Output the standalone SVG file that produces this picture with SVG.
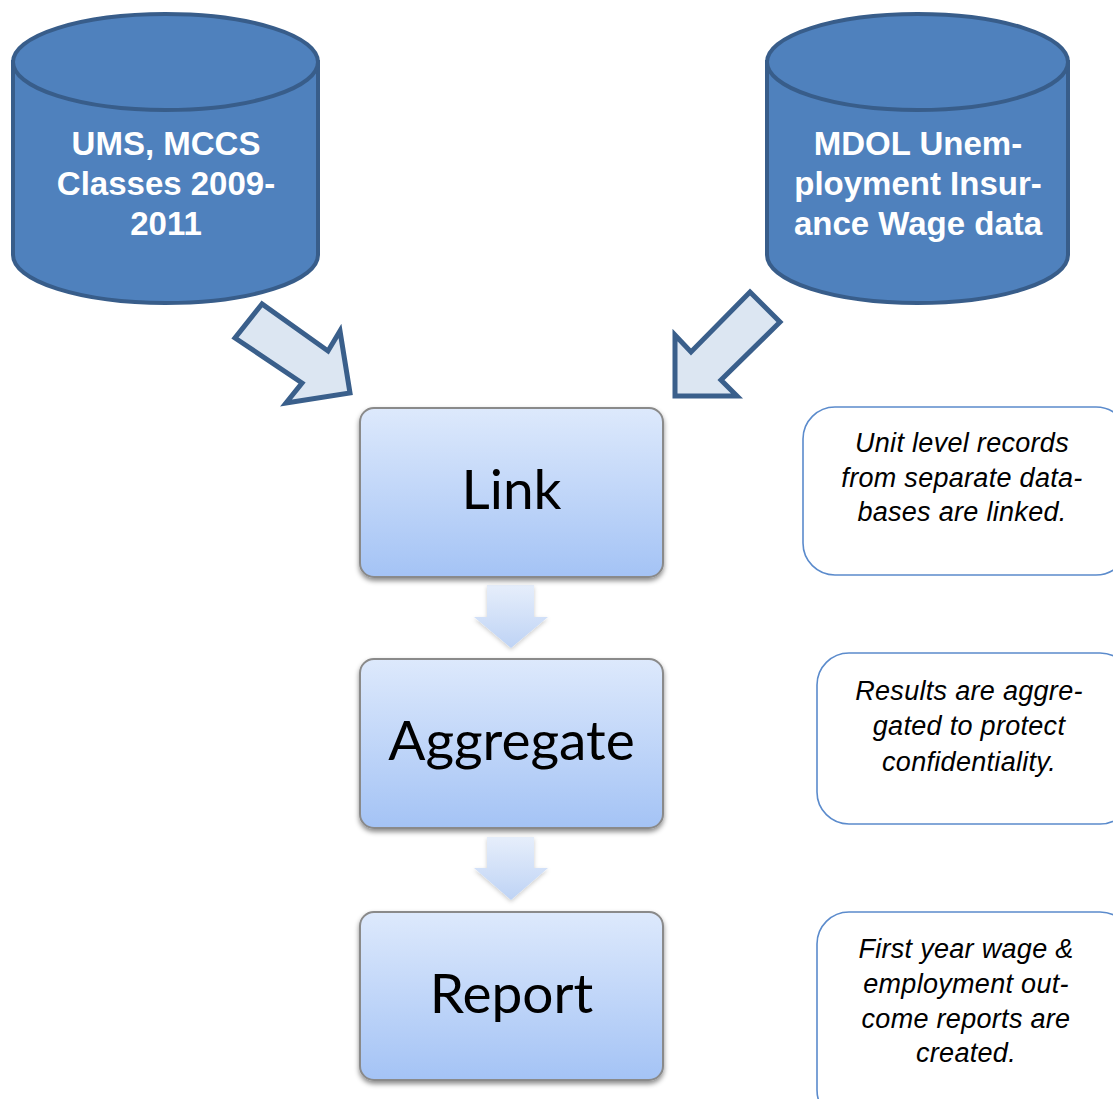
<svg xmlns="http://www.w3.org/2000/svg" width="1113" height="1099" viewBox="0 0 1113 1099">
<defs>
<linearGradient id="boxGrad" x1="0" y1="0" x2="0" y2="1">
<stop offset="0" stop-color="#dde9fc"/>
<stop offset="1" stop-color="#a4c3f5"/>
</linearGradient>
<linearGradient id="downGrad" x1="0" y1="0" x2="0" y2="1">
<stop offset="0" stop-color="#e6eefb"/>
<stop offset="1" stop-color="#bed3f5"/>
</linearGradient>
<filter id="shadow" x="-10%" y="-10%" width="120%" height="125%">
<feDropShadow dx="0" dy="3" stdDeviation="2.5" flood-color="#000" flood-opacity="0.45"/>
</filter>
<filter id="softShadow" x="-20%" y="-20%" width="140%" height="140%">
<feDropShadow dx="0" dy="2" stdDeviation="2" flood-color="#000" flood-opacity="0.2"/>
</filter>
</defs>
<style>
.cyl{fill:#4f81bd;stroke:#385d8a;stroke-width:4}
.cyltext{font-family:"Liberation Sans",Arial,sans-serif;font-weight:bold;font-size:33px;fill:#ffffff;text-anchor:middle}
.blk{fill:#dce6f2;stroke:#3a5f8b;stroke-width:5;stroke-linejoin:miter}
.proc{fill:url(#boxGrad);stroke:#8a8a8a;stroke-width:2;filter:url(#shadow)}
.proctext{font-family:Lato,"Liberation Sans",sans-serif;font-size:55px;fill:#000;text-anchor:middle}
.down{fill:url(#downGrad);filter:url(#softShadow)}
.note{fill:#ffffff;stroke:#5b8bcc;stroke-width:1.6}
.notetext{font-family:"Liberation Sans",Arial,sans-serif;font-style:italic;font-size:27px;letter-spacing:0.3px;fill:#000;text-anchor:middle}
</style>
<rect width="1113" height="1099" fill="#ffffff"/>

<g id="db-ums">
<path class="cyl" d="M13,62 V255 A152.5,48 0 0 0 318,255 V62 Z"/>
<ellipse class="cyl" cx="165.5" cy="62" rx="152.5" ry="48"/>
<text class="cyltext" x="166" y="155">UMS, MCCS</text>
<text class="cyltext" x="166" y="195">Classes 2009-</text>
<text class="cyltext" x="166" y="235">2011</text>
</g>

<g id="db-mdol">
<path class="cyl" d="M767,62 V255 A150.5,48 0 0 0 1068,255 V62 Z"/>
<ellipse class="cyl" cx="917.5" cy="62" rx="150.5" ry="48"/>
<text class="cyltext" x="918" y="155">MDOL Unem-</text>
<text class="cyltext" x="918" y="195">ployment Insur-</text>
<text class="cyltext" x="918" y="235">ance Wage data</text>
</g>

<g id="connectors">
<polygon class="blk" points="262,304 235,338 302,383 286,403 350,393 340,331 328,351"/>
<polygon class="blk" points="750,292 780,322 721,380 737,396 675,396 675,335 691,352"/>
<polygon class="down" points="487,585 534,585 534,617 548,617 511,648 474,617 487,617"/>
<polygon class="down" points="487,837 534,837 534,868 548,868 511,900 474,868 487,868"/>
</g>

<g id="link">
<rect class="proc" x="360" y="408" width="303" height="169" rx="14"/>
<text class="proctext" x="511.5" y="509">Link</text>
</g>

<g id="aggregate">
<rect class="proc" x="360" y="659" width="303" height="169" rx="14"/>
<text class="proctext" x="511.5" y="760">Aggregate</text>
</g>

<g id="report">
<rect class="proc" x="360" y="912" width="303" height="168" rx="14"/>
<text class="proctext" x="511.5" y="1013">Report</text>
</g>

<g id="note-link">
<rect class="note" x="803" y="407" width="325" height="168" rx="32"/>
<text class="notetext" x="962" y="452">Unit level records</text>
<text class="notetext" x="962" y="487">from separate data-</text>
<text class="notetext" x="962" y="521">bases are linked.</text>
</g>

<g id="note-aggregate">
<rect class="note" x="817" y="653" width="315" height="171" rx="32"/>
<text class="notetext" x="969" y="700">Results are aggre-</text>
<text class="notetext" x="969" y="735">gated to protect</text>
<text class="notetext" x="969" y="771">confidentiality.</text>
</g>

<g id="note-report">
<rect class="note" x="817" y="912" width="315" height="210" rx="32"/>
<text class="notetext" x="966" y="958">First year wage &amp;</text>
<text class="notetext" x="966" y="993">employment out-</text>
<text class="notetext" x="966" y="1028">come reports are</text>
<text class="notetext" x="966" y="1062">created.</text>
</g>
</svg>
